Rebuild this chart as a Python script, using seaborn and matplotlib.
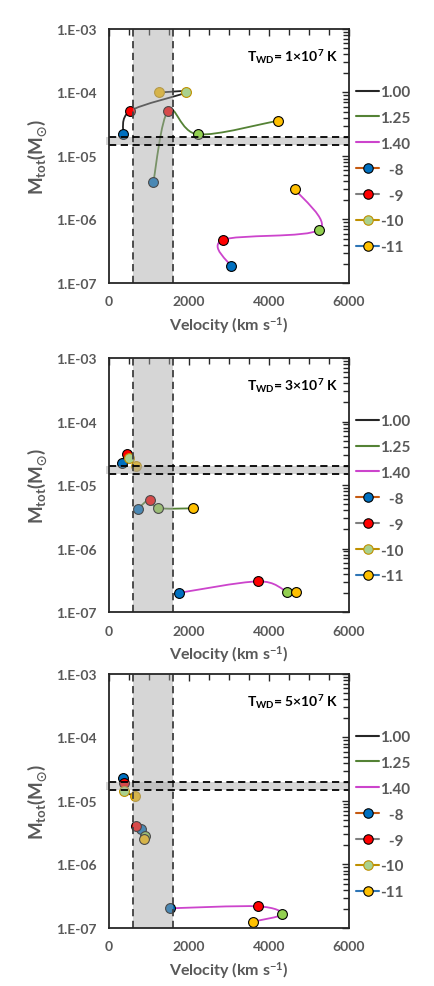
import numpy as np
import pandas as pd
import matplotlib
matplotlib.use("Agg")
import matplotlib.pyplot as plt
import seaborn as sns
from matplotlib.path import Path
from matplotlib.patches import PathPatch
from matplotlib.lines import Line2D
from matplotlib.ticker import FuncFormatter, LogLocator, MultipleLocator, NullFormatter

sns.set_theme(style="white")
plt.rcParams['font.family'] = ['Lato', 'DejaVu Sans']
plt.rcParams['font.weight'] = 'bold'
plt.rcParams['mathtext.fontset'] = 'custom'
plt.rcParams['mathtext.rm'] = 'Lato:bold'
plt.rcParams['mathtext.bf'] = 'Lato:bold'
plt.rcParams['mathtext.it'] = 'Lato:bold'
plt.rcParams['mathtext.fallback'] = 'stixsans'

# ---------------- data ----------------
masses = ["1.00", "1.25", "1.40"]
exponents = ["-8", "-9", "-10", "-11"]
temps = ["1", "3", "5"]

# Panel T_WD = 1e7 K  (order of points: -8, -9, -10, -11)
vel_t1_100 = [350, 525, 1917, 1250]
mass_t1_100 = [2.22e-5, 5.1e-5, 1.0e-4, 1.0e-4]
vel_t1_125 = [1108, 1483, 2225, 4225]
mass_t1_125 = [3.9e-6, 5.2e-5, 2.19e-5, 3.6e-5]
vel_t1_140 = [3050, 2842, 5258, 4650]
mass_t1_140 = [1.83e-7, 4.75e-7, 6.9e-7, 3.0e-6]

# Panel T_WD = 3e7 K
vel_t3_100 = [333, 450, 500, 683]
mass_t3_100 = [2.19e-5, 3.1e-5, 2.7e-5, 2.0e-5]
vel_t3_125 = [717, 1017, 1217, 2092]
mass_t3_125 = [4.2e-6, 5.9e-6, 4.35e-6, 4.3e-6]
vel_t3_140 = [1742, 3733, 4458, 4683]
mass_t3_140 = [2.0e-7, 3.04e-7, 2.1e-7, 2.09e-7]

# Panel T_WD = 5e7 K
vel_t5_100 = [342, 383, 367, 658]
mass_t5_100 = [2.3e-5, 1.95e-5, 1.42e-5, 1.2e-5]
vel_t5_125 = [792, 667, 900, 867]
mass_t5_125 = [3.58e-6, 4.04e-6, 2.84e-6, 2.52e-6]
vel_t5_140 = [1525, 3717, 4325, 3608]
mass_t5_140 = [2.04e-7, 2.19e-7, 1.64e-7, 1.26e-7]

obs_vel_range = [600, 1600]
obs_mass_range = [1.5e-5, 2.0e-5]

panels = [
    (temps[0], [(vel_t1_100, mass_t1_100), (vel_t1_125, mass_t1_125), (vel_t1_140, mass_t1_140)]),
    (temps[1], [(vel_t3_100, mass_t3_100), (vel_t3_125, mass_t3_125), (vel_t3_140, mass_t3_140)]),
    (temps[2], [(vel_t5_100, mass_t5_100), (vel_t5_125, mass_t5_125), (vel_t5_140, mass_t5_140)]),
]

# ---------------- style ----------------
mass_colors = {"1.00": "#262626", "1.25": "#548235", "1.40": "#cc44cc"}
exp_colors = {"-8": "#0070c0", "-9": "#ff0000", "-10": "#92d050", "-11": "#ffc000"}
exp_line_colors = {"-8": "#c55a11", "-9": "#7f7f7f", "-10": "#bf9000", "-11": "#2e75b6"}
GRAY = "#595959"
XMAX = 6000.0
LOGMIN, LOGMAX = -7.0, -3.0


def smooth_path(xs, ys, aspect):
    # Excel-like smoothed line: cubic Bezier through points, computed in axis-fraction space
    u = np.asarray(xs, float) / XMAX * aspect
    v = (np.log10(np.asarray(ys, float)) - LOGMIN) / (LOGMAX - LOGMIN)
    P = np.column_stack([u, v])
    n = len(P)
    verts = [P[0]]
    codes = [Path.MOVETO]
    for i in range(n - 1):
        p0 = P[i - 1] if i > 0 else P[i]
        p1 = P[i]
        p2 = P[i + 1]
        p3 = P[i + 2] if i + 2 < n else P[i + 1]
        c1 = p1 + (p2 - p0) / 6.0
        c2 = p2 - (p3 - p1) / 6.0
        verts += [c1, c2, p2]
        codes += [Path.CURVE4] * 3
    V = np.array(verts)
    X = V[:, 0] / aspect * XMAX
    Y = 10 ** (V[:, 1] * (LOGMAX - LOGMIN) + LOGMIN)
    return Path(np.column_stack([X, Y]), codes)


fig = plt.figure(figsize=(4.35, 9.87), dpi=100)
ax_bottoms = [0.7123, 0.3789, 0.0588]
AX_L, AX_W, AX_H = 0.2506, 0.5517, 0.2573
aspect = (AX_W * 4.35) / (AX_H * 9.87)

for (temp, series), bottom in zip(panels, ax_bottoms):
    ax = fig.add_axes([AX_L, bottom, AX_W, AX_H])
    ax.set_facecolor("white")
    ax.set_yscale("log")
    ax.set_xlim(0, XMAX)
    ax.set_ylim(10 ** LOGMIN, 10 ** LOGMAX)

    rows = []
    for mass, (vx, my) in zip(masses, series):
        patch = PathPatch(smooth_path(vx, my, aspect), facecolor="none",
                          edgecolor=mass_colors[mass], lw=1.3, zorder=2)
        ax.add_patch(patch)
        for e, xv, yv in zip(exponents, vx, my):
            rows.append({"mass": mass, "exp": e, "vel": xv, "mtot": yv})
    df = pd.DataFrame(rows)

    for mass in masses:
        sub = df[df["mass"] == mass]
        if mass == "1.00":
            pal = dict(exp_colors)
            pal["-10"] = "#a9d18e"
        else:
            pal = exp_colors
        for e in exponents:
            s = sub[sub["exp"] == e]
            ec = "#bf9000" if (mass == "1.00" and e in ("-10", "-11")) else "black"
            sns.scatterplot(data=s, x="vel", y="mtot", color=pal[e], s=50,
                            edgecolor=ec, linewidth=0.8, ax=ax, zorder=3, legend=False)

    # observational bands (drawn on top, translucent)
    ax.axvspan(obs_vel_range[0], obs_vel_range[1], color="#a6a6a6", alpha=0.45, lw=0, zorder=4)
    ax.axhspan(obs_mass_range[0], obs_mass_range[1], xmin=-0.0125, xmax=1.0,
               color="#a6a6a6", alpha=0.45, lw=0, zorder=4, clip_on=False)
    for xv in obs_vel_range:
        ax.axvline(xv, color="#404040", ls=(0, (4, 2.5)), lw=1.3, zorder=5)
    for yv in obs_mass_range:
        ax.axhline(yv, color="black", ls=(0, (4, 2.5)), lw=1.3, zorder=5)

    ax.set_xlabel("Velocity (km s$^{\\mathregular{-1}}$)", color=GRAY, fontsize=11.5,
                  fontweight="bold", labelpad=5)
    ax.set_ylabel("M$_{\\mathregular{tot}}$(M$_{\\odot}$)", color=GRAY, fontsize=13.5,
                  fontweight="bold", labelpad=5)

    ax.xaxis.set_major_locator(MultipleLocator(2000))
    ax.xaxis.set_minor_locator(MultipleLocator(500))
    ax.yaxis.set_major_locator(LogLocator(base=10, numticks=10))
    ax.yaxis.set_minor_locator(LogLocator(base=10, subs=np.arange(2, 10), numticks=20))
    ax.yaxis.set_minor_formatter(NullFormatter())
    ax.yaxis.set_major_formatter(FuncFormatter(lambda v, p: "1.E%+03d" % int(round(np.log10(v)))))
    ax.tick_params(axis="both", which="both", direction="in", top=True, right=True,
                   color="#262626", width=1.0)
    ax.tick_params(axis="both", which="major", length=5, labelsize=10, labelcolor=GRAY, pad=9)
    ax.tick_params(axis="both", which="minor", length=4)
    for lab in ax.get_xticklabels() + ax.get_yticklabels():
        lab.set_fontweight("bold")
    for sp in ax.spines.values():
        sp.set_color("#262626")
        sp.set_linewidth(1.3)
        sp.set_visible(True)
        sp.set_zorder(6)

    ax.text(0.575, 0.893, "T$_{\\mathregular{WD}}$= " + temp + "\u00d710$^{\\mathregular{7}}$ K",
            transform=ax.transAxes, ha="left", va="center", fontsize=10,
            fontweight="bold", color="black")

    handles = []
    labels = []
    for mass in masses:
        handles.append(Line2D([], [], color=mass_colors[mass], lw=1.5))
        labels.append(mass)
    for e in exponents:
        fc = "#a9d18e" if e == "-10" else exp_colors[e]
        mec = "#bf9000" if e == "-10" else "black"
        handles.append(Line2D([], [], color=exp_line_colors[e], lw=1.5, marker="o",
                              markersize=6.8, markerfacecolor=fc, markeredgecolor=mec,
                              markeredgewidth=0.8))
        labels.append(e.rjust(3, "\u2007"))
    leg = ax.legend(handles, labels, loc="upper left", bbox_to_anchor=(1.03, 0.78),
                    frameon=False, fontsize=11, handlelength=1.5, handletextpad=0.05,
                    labelspacing=0.78, borderpad=0, borderaxespad=0)
    for t in leg.get_texts():
        t.set_color(GRAY)
        t.set_fontweight("bold")

fig.savefig("out.png", dpi=100, facecolor="white")
